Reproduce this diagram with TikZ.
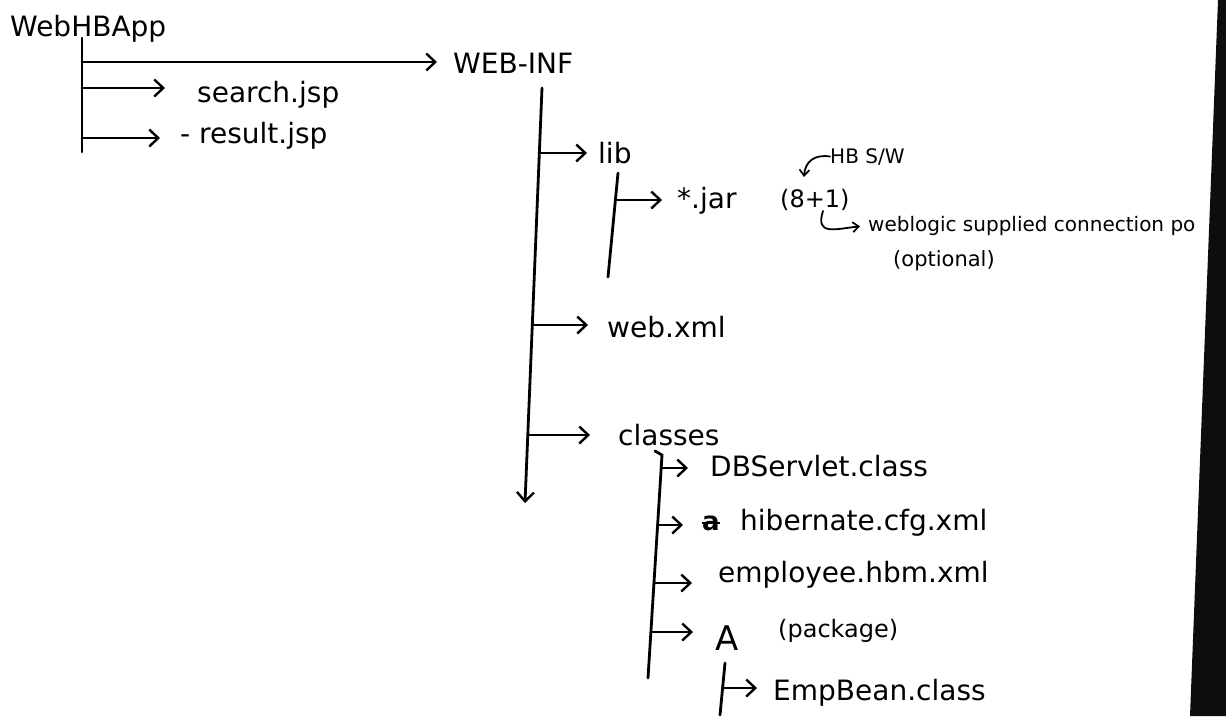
\documentclass[tikz,border=0pt]{standalone}
\usepackage{fontspec}
\setmainfont{DejaVu Sans}
\usetikzlibrary{arrows.meta}
\begin{document}
\begin{tikzpicture}[x=1pt,y=-1pt,
 ln/.style={line width=2.8pt,line cap=round},
 arr/.style={ln,-{Straight Barb[length=9pt,width=17pt,line width=2.4pt]}},
 sarr/.style={line width=1.8pt,line cap=round,-{Straight Barb[length=6pt,width=10pt,line width=1.7pt]}},
 lbl/.style={inner sep=0pt,anchor=base west,font=\fontsize{28}{32}\selectfont},
 mid/.style={inner sep=0pt,anchor=base west,font=\fontsize{24}{28}\selectfont},
 small/.style={inner sep=0pt,anchor=base west,font=\fontsize{20}{24}\selectfont}]
\useasboundingbox (0,0) rectangle (1226,716);
\fill[white] (0,0) rectangle (1226,716);

% labels
\node[lbl] (root) at (10,36) {WebHBApp};
\node[lbl] (webinf) at (453,73) {WEB-INF};
\node[lbl] (search) at (197,102) {search.jsp};
\node[lbl] (result) at (180,143) {- result.jsp};
\node[lbl] (lib) at (598,163) {lib};
\node[lbl] (jar) at (677,208) {*.jar};
\node[mid] (eight) at (780,207) {(8+1)};
\node[small] (hb) at (830,163) {HB S/W};
\node[small] (wl) at (868,231) {weblogic supplied connection po};
\node[small,font=\fontsize{21}{24}\selectfont] (opt) at (893,266) {(optional)};
\node[lbl] (webxml) at (607,337) {web.xml};
\node[lbl] (classes) at (618,445) {classes};
\node[lbl] (dbs) at (710,476) {DBServlet.class};
\node[lbl,font=\bfseries\fontsize{26}{30}\selectfont] (xa) at (702,530) {a};
\node[lbl] (hib) at (740,530) {hibernate.cfg.xml};
\node[lbl] (emp) at (718,582) {employee.hbm.xml};
\node[lbl,font=\fontsize{34}{38}\selectfont] (pkA) at (715,650) {A};
\node[mid] (pkg) at (778,637) {(package)};
\node[lbl] (bean) at (773,700) {EmpBean.class};

% root tree
\coordinate (r0) at (82,38);
\coordinate (r1) at (82,152);
\coordinate (rb1) at (82,62);
\coordinate (rb2) at (82,88);
\coordinate (rb3) at (82,138);
\draw[ln] (r0) -- (r1);
\draw[arr,shorten >=16pt] (rb1) -- (rb1 -| webinf.west);
\draw[arr,shorten >=32pt] (rb2) -- (rb2 -| search.west);
\draw[arr,shorten >=20pt] (rb3) -- (rb3 -| result.west);

% WEB-INF tree
\coordinate (w0) at (542,88);
\coordinate (w1) at (525,503);
\coordinate (wb1) at (539,153);
\coordinate (wb2) at (532,325);
\coordinate (wb3) at (528,435);
\draw[arr] (w0) -- (w1);
\draw[arr,shorten >=11pt] (wb1) -- (wb1 -| lib.west);
\draw[arr,shorten >=19pt] (wb2) -- (wb2 -| webxml.west);
\draw[arr,shorten >=28pt] (wb3) -- (wb3 -| classes.west);

% lib tree
\coordinate (l0) at (618,173);
\coordinate (l1) at (608,277);
\coordinate (lb1) at (617,200);
\draw[ln] (l0) -- (l1);
\draw[arr,shorten >=15pt] (lb1) -- (lb1 -| jar.west);

% notes on jar
\coordinate (e8) at (804,177);
\coordinate (e1) at (823,211);
\draw[sarr] (hb.west) .. controls (814,154) and (805,162) .. (e8);
\draw[sarr,shorten >=8pt] (e1) .. controls (815,236) and (835,229) .. (wl.west);

% classes tree
\coordinate (ch) at (655,451);
\coordinate (c0) at (662,455);
\coordinate (c1) at (648,678);
\coordinate (cb1) at (661,468);
\coordinate (cb2) at (658,525);
\coordinate (cb3) at (654,583);
\coordinate (cb4) at (651,632);
\draw[ln] (ch) -- (c0) -- (c1);
\draw[arr,shorten >=22pt] (cb1) -- (cb1 -| dbs.west);
\draw[arr,shorten >=19pt] (cb2) -- (cb2 -| xa.west);
\draw[arr,shorten >=26pt] (cb3) -- (cb3 -| emp.west);
\draw[arr,shorten >=22pt] (cb4) -- (cb4 -| pkA.west);
\draw[line width=2.5pt] (xa.west) -- (xa.east);

% package tree
\coordinate (a0) at (725,663);
\coordinate (a1) at (720,715);
\coordinate (ab1) at (723,688);
\draw[ln] (a0) -- (a1);
\draw[arr,shorten >=16pt] (ab1) -- (ab1 -| bean.west);

% scanned page edge
\fill[black!95] (1218,0) -- (1226,0) -- (1226,716) -- (1190,716) -- cycle;
\end{tikzpicture}
\end{document}
